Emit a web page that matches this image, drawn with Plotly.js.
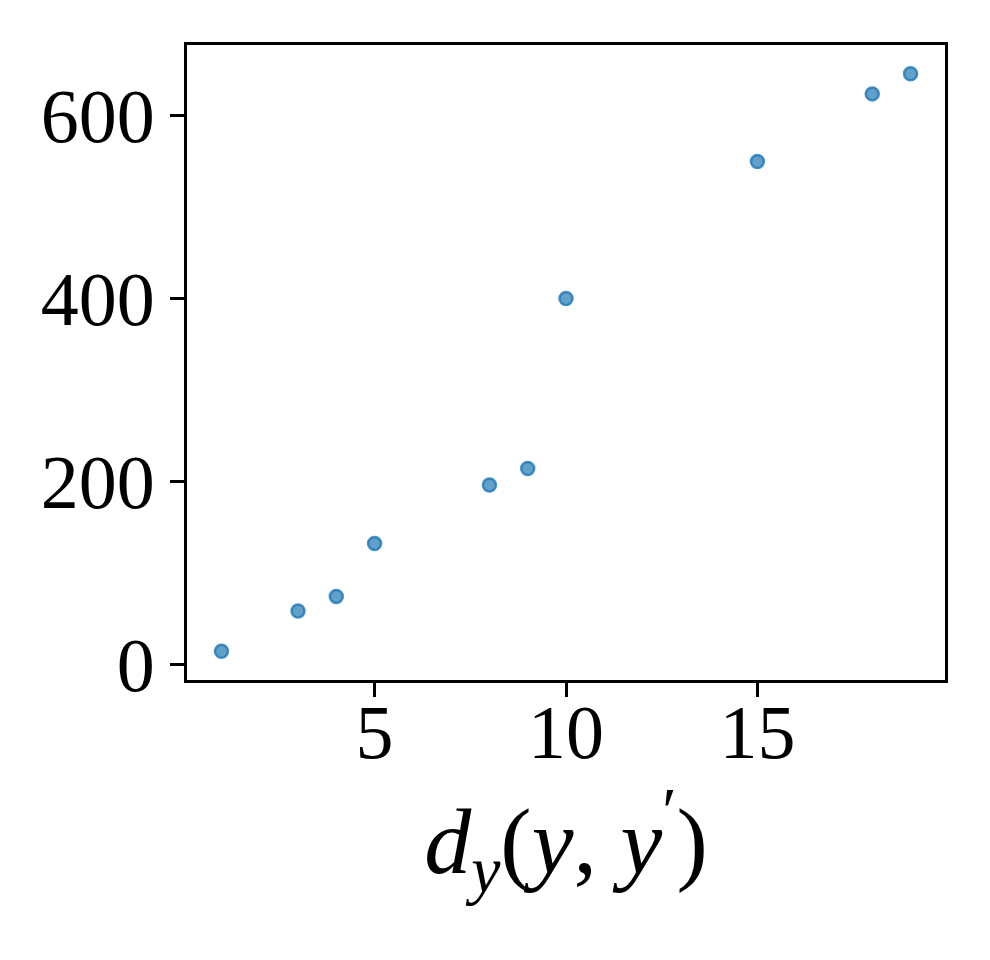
<!DOCTYPE html>
<html>
<head>
<meta charset="utf-8">
<script src="https://cdn.plot.ly/plotly-3.0.1.min.js"></script>
<style>
  html, body { margin: 0; padding: 0; background: #fff; }
  #chart { width: 990px; height: 960px; }
</style>
</head>
<body>
<div id="chart"></div>
<script>
// distance values and counts
var dy = [1, 3, 4, 5, 8, 9, 10, 15, 18, 19];
var counts = [14, 58, 74, 132, 196, 214, 400, 550, 624, 646];

var xTicks = [5, 10, 15];
var yTicks = [0, 200, 400, 600];

var trace = {
  x: dy,
  y: counts,
  mode: 'markers',
  type: 'scatter',
  marker: {
    color: 'rgba(31,119,180,0.7)',
    size: 13,
    line: { color: 'rgba(31,119,180,0.8)', width: 2.5 }
  },
  hoverinfo: 'x+y'
};

var tickFont = { family: 'Liberation Serif, Times New Roman, serif', size: 76, color: '#000' };

var layout = {
  width: 990,
  height: 960,
  margin: { l: 187, r: 45, t: 45, b: 280 },
  paper_bgcolor: '#fff',
  plot_bgcolor: '#fff',
  showlegend: false,
  xaxis: {
    range: [0.1, 19.9],
    tickvals: xTicks,
    ticktext: xTicks.map(String),
    ticks: 'outside',
    ticklen: 14,
    tickwidth: 3,
    tickcolor: '#000',
    showline: true,
    linewidth: 3,
    linecolor: '#000',
    mirror: true,
    showgrid: false,
    zeroline: false,
    tickfont: tickFont,
    ticklabelstandoff: -30,
    title: {
      text: '<i>d</i><sub><i>y</i></sub>(<i>y</i>, <i>y</i><sup>′</sup>)',
      font: { family: 'Liberation Serif, Times New Roman, serif', size: 94, color: '#000' },
      standoff: 20
    }
  },
  yaxis: {
    range: [-17.5, 677.5],
    tickvals: yTicks,
    ticktext: yTicks.map(String),
    ticks: 'outside',
    ticklen: 14,
    tickwidth: 3,
    tickcolor: '#000',
    showline: true,
    linewidth: 3,
    linecolor: '#000',
    mirror: true,
    showgrid: false,
    zeroline: false,
    tickfont: tickFont,
    ticklabelstandoff: 0
  }
};

Plotly.newPlot('chart', [trace], layout, { displayModeBar: false, staticPlot: true });
</script>
</body>
</html>
